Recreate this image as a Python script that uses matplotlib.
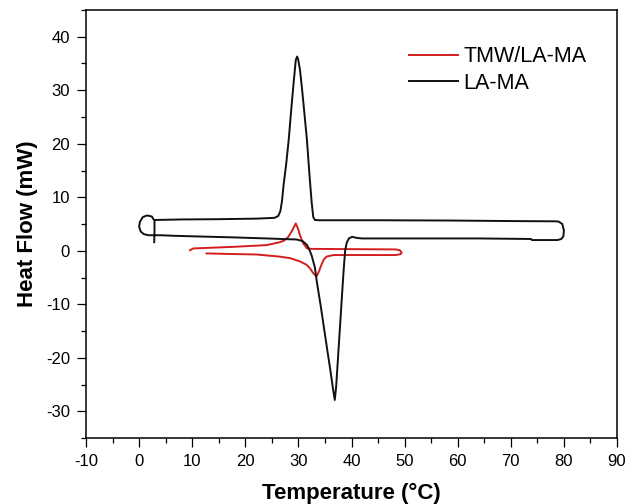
import matplotlib
matplotlib.use("Agg")
import matplotlib.pyplot as plt
from matplotlib.ticker import MultipleLocator

# ---- data ----
lama_temp = [2.7, 2.4, 1.5, 0.7, 0.15, 0.0, 0.3, 0.9, 1.8, 4.0, 6.5, 10.0, 17.7, 24.0,
             29.7, 30.8, 31.6, 32.1, 32.5, 33.1, 33.5, 34.2, 34.8, 35.4, 36.0, 36.5,
             36.85, 37.1, 37.3, 37.6, 37.9, 38.2, 38.5, 38.8, 39.1, 39.5, 40.1, 41.0,
             42.0, 55.0, 64.0, 73.8, 74.0, 78.8, 79.5, 79.9, 80.0, 79.7, 79.0, 78.5,
             70.0, 58.5, 45.0, 34.0, 33.1, 32.8, 32.5, 32.1, 31.6, 31.1, 30.7, 30.3,
             29.95, 29.75, 29.5, 29.1, 28.6, 28.2, 27.7, 27.2, 26.9, 26.6, 26.2, 25.5,
             22.0, 15.0, 8.0, 2.9, 2.9, 2.85]
lama_flow = [5.9, 6.4, 6.6, 6.3, 5.4, 4.5, 3.6, 3.1, 2.9, 2.9, 2.8, 2.7, 2.5, 2.3,
             2.1, 1.8, 1.1, 0.1, -0.9, -3.1, -6.0, -10.3, -14.3, -18.3, -22.2, -25.7,
             -27.9, -25.5, -22.5, -17.8, -13.2, -8.5, -3.9, 0.0, 1.5, 2.3, 2.6, 2.4,
             2.3, 2.3, 2.3, 2.2, 2.0, 2.0, 2.2, 2.7, 3.8, 5.0, 5.45, 5.5,
             5.55, 5.65, 5.7, 5.7, 5.75, 6.3, 9.0, 14.0, 20.8, 26.0, 30.1, 33.8,
             35.8, 36.3, 35.6, 31.4, 25.8, 21.0, 16.2, 12.2, 9.2, 7.4, 6.5, 6.15,
             6.0, 5.9, 5.85, 5.75, 4.0, 1.6]

tmw_temp = [12.7, 17.0, 22.1, 26.5, 28.5, 30.3, 31.5, 32.2, 32.8, 33.4, 33.9, 34.3,
            34.8, 35.3, 36.6, 42.0, 48.3, 49.2, 49.45, 49.1, 48.3, 40.0, 32.5, 31.6,
            30.9, 30.3, 29.9, 29.5, 29.2, 28.6, 28.1, 27.3, 26.5, 24.0, 17.7, 10.2, 9.6]
tmw_flow = [-0.5, -0.6, -0.7, -1.1, -1.4, -2.0, -2.6, -3.3, -4.2, -4.8, -3.8, -2.7,
            -1.6, -1.1, -0.8, -0.8, -0.8, -0.65, -0.4, 0.1, 0.25, 0.3, 0.35, 0.45,
            1.4, 2.9, 4.2, 5.1, 4.5, 3.4, 2.6, 1.9, 1.6, 1.05, 0.73, 0.43, 0.1]

x_ticks = [-10, 0, 10, 20, 30, 40, 50, 60, 70, 80, 90]
y_ticks = [-30, -20, -10, 0, 10, 20, 30, 40]

plt.rcParams['font.family'] = ['Liberation Sans', 'DejaVu Sans']
plt.rcParams['axes.unicode_minus'] = False

fig = plt.figure(figsize=(6.28, 5.04), dpi=100)
ax = fig.add_axes([86/628, 1-438/504, 531/628, 428/504])

ax.plot(tmw_temp, tmw_flow, color='#d21e1e', lw=1.4, label='TMW/LA-MA')
ax.plot(lama_temp, lama_flow, color='#111111', lw=1.4, label='LA-MA')

ax.set_xlim(-10, 90)
ax.set_ylim(-35, 45)
ax.set_xticks(x_ticks)
ax.set_yticks(y_ticks)
ax.xaxis.set_minor_locator(MultipleLocator(5))
ax.yaxis.set_minor_locator(MultipleLocator(5))
ax.tick_params(which='major', direction='out', length=6.5, width=0.9, labelsize=12, pad=5)
ax.tick_params(which='minor', direction='out', length=3.5, width=0.9)
ax.tick_params(top=False, right=False, which='both')
for s in ax.spines.values():
    s.set_linewidth(1.1)

ax.set_xlabel('Temperature (°C)', fontsize=16, fontweight='bold', labelpad=10)
ax.set_ylabel('Heat Flow (mW)', fontsize=16, fontweight='bold', labelpad=6)

ax.legend(loc='upper left', bbox_to_anchor=(0.608, 0.915), frameon=False,
          fontsize=15.5, handlelength=2.3, handletextpad=0.25, borderpad=0,
          borderaxespad=0, labelspacing=0.25)

fig.savefig('out.png', dpi=100)
